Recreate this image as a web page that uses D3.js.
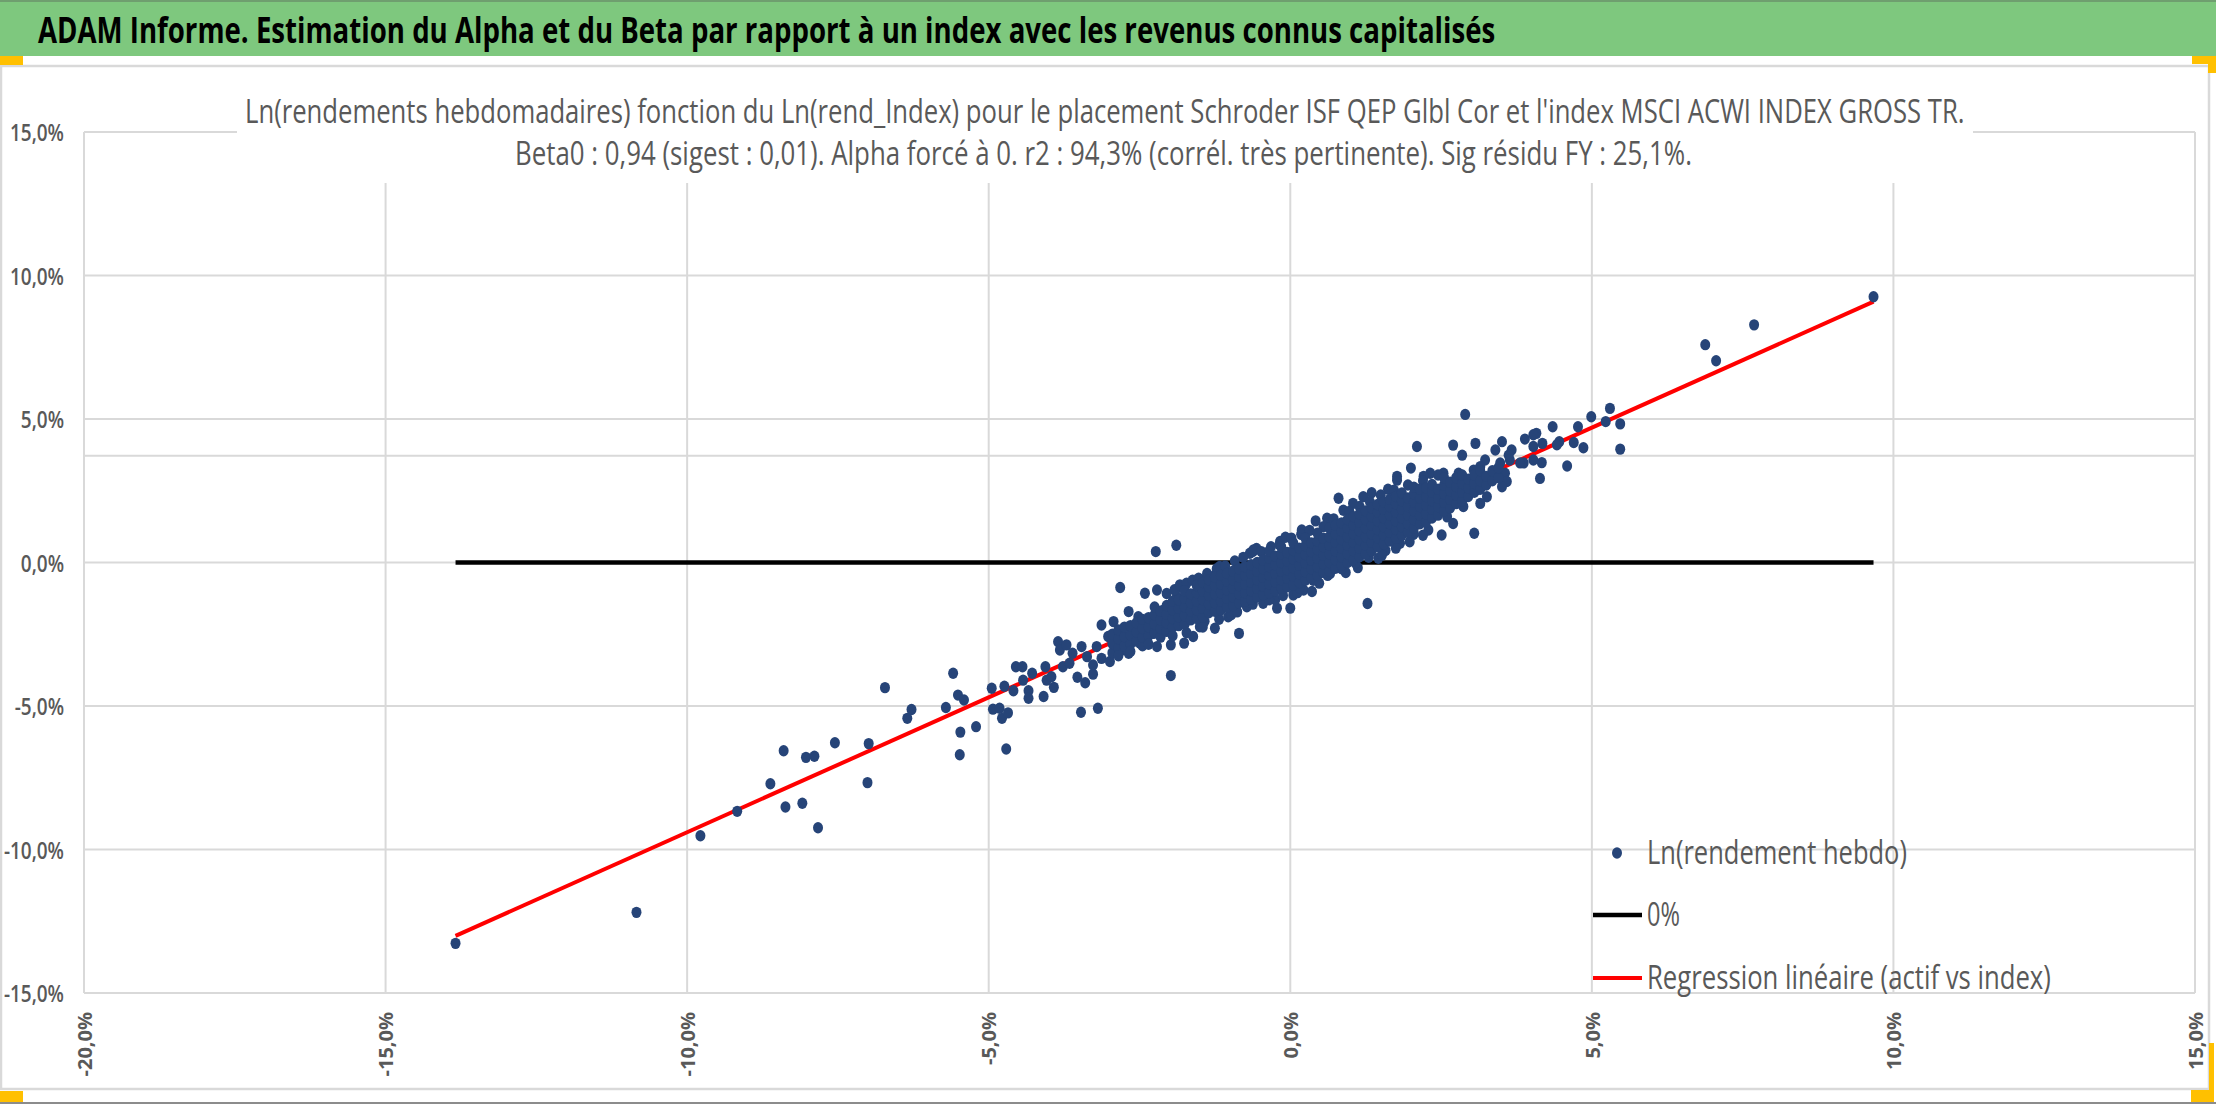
<!DOCTYPE html>
<html>
<head>
<meta charset="utf-8">
<script src="https://cdn.jsdelivr.net/npm/d3@7"></script>
<style>
	body { margin: 0; background: #fff; }
	svg { display: block; }
	text { font-family: "Open Sans", "Noto Sans", sans-serif; }
</style>
</head>
<body>
<script>
// texts
let titleText = 'ADAM Informe. Estimation du Alpha et du Beta par rapport à un index avec les revenus connus capitalisés'
let subtitleLines = [
	"Ln(rendements hebdomadaires) fonction du Ln(rend_Index) pour le placement Schroder ISF QEP Glbl Cor et l'index MSCI ACWI INDEX GROSS TR.",
	'Beta0 : 0,94 (sigest : 0,01). Alpha forcé à 0. r2 : 94,3% (corrél. très pertinente). Sig résidu FY : 25,1%.'
]
let legendLabels = ['Ln(rendement hebdo)', '0%', 'Regression linéaire (actif vs index)']

// axes (values in %)
let xTicks = [-20, -15, -10, -5, 0, 5, 10, 15]
let yTicks = [-15, -10, -5, 0, 5, 10, 15]
let extraGridY = [3.72]
let beta0 = 0.94

// weekly log returns, index (x) vs fund (y), in %
let outliers = [
	[-13.84, -13.27], [-10.84, -12.19], [-9.78, -9.52], [-9.17, -8.67], [-8.62, -7.71], [-8.37, -8.52],
	[-8.09, -8.39], [-7.83, -9.24], [-8.40, -6.56], [-8.03, -6.79], [-7.89, -6.75], [-7.55, -6.28],
	[-6.99, -6.31], [-7.01, -7.67], [-6.72, -4.36], [-6.28, -5.12], [-6.35, -5.43],
	[-5.71, -5.05], [-5.59, -3.86], [-5.51, -4.62], [-5.41, -4.79], [-5.47, -5.91], [-5.21, -5.72],
	[-5.48, -6.70], [-4.71, -6.50], [-4.95, -4.38], [-4.93, -5.11], [-4.82, -5.08], [-4.78, -5.43],
	[-4.68, -5.24], [-4.74, -4.31], [-4.59, -4.47], [-4.55, -3.63], [-4.44, -3.63], [-4.28, -3.86],
	[-4.43, -4.10], [-4.34, -4.47], [-4.34, -4.73], [-4.09, -4.67], [-4.04, -4.10], [-3.92, -4.35],
	[-3.96, -3.98], [-4.06, -3.63], [-3.85, -2.76], [-3.82, -3.05], [-3.71, -2.87], [-3.61, -3.16],
	[-3.77, -3.63], [-3.66, -3.51], [-3.53, -4.00], [-3.40, -4.19], [-3.27, -3.89], [-3.27, -3.57],
	[-3.46, -2.93], [-3.37, -3.28], [-3.47, -5.22], [-3.19, -5.08], [-3.21, -2.93], [-3.13, -2.18],
	[-3.13, -3.34], [-2.99, -3.45], [-2.93, -2.06], [-3.02, -2.58], [-2.82, -2.47], [-2.79, -3.05],
	[-2.68, -1.71], [-2.68, -3.16], [-2.60, -2.58], [-2.49, -2.81], [-2.52, -1.89], [-2.41, -1.07],
	[-2.38, -2.24], [-2.21, -0.96], [-2.27, -2.47], [-2.21, -2.93], [-2.10, -1.66], [-2.05, -2.24],
	[-1.98, -2.87], [-1.83, -0.84], [-1.88, -1.19], [-1.76, -2.81], [-1.61, -2.58], [-1.77, -2.00],
	[-1.61, -1.54], [-1.47, -0.61], [-1.50, -2.24], [-1.25, -2.29], [-1.28, -0.49], [-1.17, -0.14],
	[-1.03, -1.89], [-1.05, -0.61], [-0.94, -1.54], [-0.67, 0.32], [-0.56, 0.49], [-0.72, -1.54],
	[-0.56, -1.19], [-0.22, -1.59], [-0.25, -1.30], [0.00, -1.59], [0.05, -1.13], [0.22, -0.96],
	[0.36, -1.01], [-0.17, 0.73], [0.19, 1.13], [0.66, -0.38], [0.80, 2.24], [0.61, 1.54],
	[1.04, 2.06], [1.35, 2.43], [1.21, 2.29], [1.46, 0.15], [1.77, 2.87], [2.05, 1.01], [1.82, 0.67],
	[-2.23, 0.38], [-1.89, 0.60], [-2.82, -0.87], [-1.98, -3.94], [1.28, -1.43], [-0.85, -2.47],
	[-1.42, -2.05], [-0.98, -1.82], [-0.45, -1.42], [0.12, -1.05], [0.48, -0.72], [0.92, -0.35],
	[1.12, -0.18], [1.58, 0.42], [-0.62, 0.38], [-0.08, 0.88], [0.42, 1.45], [0.88, 1.82], [1.62, 2.55]
]
let upperPoints = [
	[9.67, 9.26], [7.69, 8.28], [6.88, 7.59], [7.06, 7.03], [5.47, 3.95], [5.47, 4.83], [5.30, 5.37],
	[5.23, 4.91], [4.99, 5.08], [4.77, 4.73], [4.86, 4.00], [4.70, 4.18], [4.59, 3.36], [4.35, 4.73],
	[4.46, 4.21], [4.42, 4.10], [4.14, 2.93], [4.17, 3.48], [4.03, 3.57], [4.18, 4.15], [4.08, 4.50],
	[4.03, 4.04], [3.89, 4.30], [4.03, 4.45], [3.87, 3.47], [3.81, 3.47], [3.67, 3.92], [3.62, 3.74],
	[3.64, 3.57], [3.51, 4.21], [3.40, 3.92], [3.48, 3.47], [3.56, 3.11], [3.59, 2.82], [3.51, 2.64],
	[3.42, 3.11], [3.23, 3.57], [3.15, 3.34], [3.04, 3.22], [2.90, 5.16], [3.07, 4.15], [2.70, 4.09],
	[2.85, 3.74], [2.10, 4.04], [2.00, 3.29], [1.77, 3.00], [3.05, 1.02], [2.51, 0.96], [2.04, 0.98],
	[2.29, 1.13], [2.70, 1.36], [3.26, 2.29], [3.15, 2.06], [3.09, 2.53], [2.87, 1.95], [2.93, 2.71],
	[2.60, 1.59], [2.32, 3.11], [2.21, 3.00], [2.54, 3.11], [2.79, 3.11]
]
// ragged rim of the dense cloud
let edgePoints = [
	[-2.05, -1.08], [-1.92, -0.95], [-1.83, -0.78], [-1.72, -0.72], [-1.62, -0.62], [-1.52, -0.55],
	[-1.38, -0.38], [-1.22, -0.22], [-1.08, -0.12], [-0.92, 0.05], [-0.78, 0.18], [-0.61, 0.44],
	[-0.48, 0.38], [-0.32, 0.55], [-0.18, 0.62], [0.02, 0.85], [0.18, 0.98], [0.32, 1.12],
	[0.55, 1.25], [0.72, 1.52], [0.98, 1.78], [1.15, 1.95], [1.32, 2.12], [1.50, 2.35],
	[1.72, 2.52], [1.95, 2.70], [2.20, 2.85], [2.45, 3.05],
	[-1.72, -2.45], [-1.45, -2.25], [-1.18, -1.98], [-0.88, -1.72], [-0.62, -1.45], [-0.35, -1.30],
	[-0.12, -1.15], [0.15, -0.88], [0.38, -0.62], [0.62, -0.45], [0.85, -0.22], [1.08, -0.02],
	[1.30, 0.18], [1.52, 0.25], [1.75, 0.50], [1.98, 0.72], [2.20, 0.95]
]
// dense core of the cloud: index value, fund values read at that index value
let coreColumns = [
	[-2.95, [-3.15, -2.82, -2.50]],
	[-2.85, [-2.98, -2.66, -2.35, -3.25]],
	[-2.75, [-2.90, -2.58, -2.25]],
	[-2.65, [-2.85, -2.52, -2.20, -3.10]],
	[-2.55, [-2.74, -2.42, -2.10]],
	[-2.45, [-2.90, -2.60, -2.30, -1.98]],
	[-2.35, [-2.55, -2.24, -1.92, -2.85]],
	[-2.25, [-2.45, -2.14, -1.82, -1.55]],
	[-2.15, [-2.60, -2.30, -2.00, -1.70]],
	[-2.05, [-2.40, -2.10, -1.80, -1.50]],
	[-1.95, [-2.25, -1.95, -1.65, -1.35, -2.55]],
	[-1.85, [-2.20, -1.90, -1.60, -1.30]],
	[-1.75, [-2.15, -1.85, -1.55, -1.25, -0.98]],
	[-1.65, [-2.00, -1.70, -1.40, -1.10]],
	[-1.55, [-1.95, -1.65, -1.35, -1.05, -0.80]],
	[-1.45, [-1.90, -1.60, -1.30, -1.00, -0.70]],
	[-1.35, [-1.75, -1.45, -1.15, -0.85, -0.60]],
	[-1.25, [-1.70, -1.40, -1.10, -0.80, -0.50]],
	[-1.15, [-1.65, -1.35, -1.05, -0.75, -0.45]],
	[-1.05, [-1.55, -1.25, -0.95, -0.65, -0.38]],
	[-0.95, [-1.50, -1.20, -0.90, -0.60, -0.30]],
	[-0.85, [-1.40, -1.10, -0.80, -0.50, -0.22]],
	[-0.75, [-1.35, -1.05, -0.75, -0.45, -0.15]],
	[-0.65, [-1.28, -0.98, -0.68, -0.38, -0.08]],
	[-0.55, [-1.20, -0.90, -0.60, -0.30, 0.00]],
	[-0.45, [-1.12, -0.82, -0.52, -0.22, 0.08]],
	[-0.35, [-1.05, -0.75, -0.45, -0.15, 0.15, 0.40]],
	[-0.25, [-0.98, -0.68, -0.38, -0.08, 0.22]],
	[-0.15, [-0.90, -0.60, -0.30, 0.00, 0.30, 0.55]],
	[-0.05, [-0.85, -0.55, -0.25, 0.05, 0.35]],
	[0.05, [-0.78, -0.48, -0.18, 0.12, 0.42, 0.68]],
	[0.15, [-0.70, -0.40, -0.10, 0.20, 0.50]],
	[0.25, [-0.62, -0.32, -0.02, 0.28, 0.58, 0.85]],
	[0.35, [-0.52, -0.22, 0.08, 0.38, 0.68]],
	[0.45, [-0.45, -0.15, 0.15, 0.45, 0.75, 1.02]],
	[0.55, [-0.35, -0.05, 0.25, 0.55, 0.85]],
	[0.65, [-0.30, 0.00, 0.30, 0.60, 0.90, 1.20]],
	[0.75, [-0.20, 0.10, 0.40, 0.70, 1.00, 1.30]],
	[0.85, [-0.10, 0.20, 0.50, 0.80, 1.10, 1.38]],
	[0.95, [0.00, 0.30, 0.60, 0.90, 1.20, 1.50]],
	[1.05, [0.10, 0.40, 0.70, 1.00, 1.30, 1.60]],
	[1.15, [0.20, 0.50, 0.80, 1.10, 1.40, 1.70]],
	[1.25, [0.30, 0.60, 0.90, 1.20, 1.50, 1.80]],
	[1.35, [0.40, 0.70, 1.00, 1.30, 1.60, 1.90]],
	[1.45, [0.55, 0.85, 1.15, 1.45, 1.75, 2.02]],
	[1.55, [0.65, 0.95, 1.25, 1.55, 1.85, 2.10]],
	[1.65, [0.75, 1.05, 1.35, 1.65, 1.95, 2.20]],
	[1.75, [0.85, 1.15, 1.45, 1.75, 2.05, 2.30]],
	[1.85, [0.95, 1.25, 1.55, 1.85, 2.15, 2.42]],
	[1.95, [1.05, 1.35, 1.65, 1.95, 2.25]],
	[2.05, [1.20, 1.50, 1.80, 2.10, 2.40, 2.62]],
	[2.15, [1.35, 1.65, 1.95, 2.25, 2.55]],
	[2.25, [1.40, 1.70, 2.00, 2.30, 2.60]],
	[2.35, [1.55, 1.85, 2.15, 2.45, 2.72]],
	[2.45, [1.65, 1.95, 2.25, 2.55]],
	[2.55, [1.80, 2.10, 2.40, 2.70, 2.95]],
	[2.65, [1.90, 2.20, 2.50, 2.80]],
	[2.75, [2.05, 2.35, 2.65, 2.95]],
	[2.85, [2.15, 2.45, 2.75, 3.05]],
	[2.95, [2.30, 2.60, 2.90]],
	[3.05, [2.45, 2.75, 3.05]],
	[3.15, [2.55, 2.85, 3.20]],
	[3.25, [2.70, 3.00]],
	[3.35, [2.85, 3.20]],
	[3.45, [2.95, 3.30]]
]

let corePoints = coreColumns.flatMap(([x, ys]) => ys.map(y => [x, y]))
let points = outliers.concat(upperPoints, edgePoints, corePoints)

let W = 2216, H = 1104
let gridColor = '#d9d9d9'
let labelColor = '#595959'
let dotColor = '#264478'

let pct = d3.formatLocale({decimal: ',', thousands: ' ', grouping: [3], currency: ['', ''], minus: '-'}).format('.1f')
let fmt = d => pct(d) + '%'

let x = d3.scaleLinear().domain([-20, 15]).range([84, 2195])
let y = d3.scaleLinear().domain([-15, 15]).range([993, 132])

let svg = d3.select('body').append('svg')
	.attr('width', W).attr('height', H)

// the source picture is narrower than it is tall: squeeze text horizontally
function fitText(parent, str, x0, y0, width, attrs) {
	let t = parent.append('text').text(str)
	for (let k in attrs) t.attr(k, attrs[k])
	let w = t.node().getComputedTextLength()
	t.attr('transform', `translate(${x0},${y0}) scale(${width/w},1)`)
	return t
}
function squeeze(sel, k, dx) {
	sel.attr('x', 0).attr('transform', `translate(${dx},0) scale(${k},1)`)
}

// frame
svg.append('rect').attr('x', 0).attr('y', 0).attr('width', W).attr('height', H).attr('fill', '#fff')
svg.append('rect')
	.attr('x', 1).attr('y', 66).attr('width', 2208).attr('height', 1023)
	.attr('fill', 'none').attr('stroke', gridColor).attr('stroke-width', 2.5)
svg.append('line')
	.attr('x1', 0).attr('x2', W).attr('y1', 1103).attr('y2', 1103)
	.attr('stroke', '#8c8c8c').attr('stroke-width', 2)

// header band
svg.append('rect')
	.attr('x', 0).attr('y', 0).attr('width', W).attr('height', 56)
	.attr('fill', '#7ec87e')
svg.append('line')
	.attr('x1', 0).attr('x2', W).attr('y1', 1).attr('y2', 1)
	.attr('stroke', '#6f9f6f').attr('stroke-width', 2)
fitText(svg, titleText, 38, 43, 1458, {'font-size': 35, 'font-weight': 700, 'fill': '#000'})

// selection handles
let handles = [[0, 56, 23, 9], [0, 1091, 23, 11], [2192, 56, 24, 8], [2208, 56, 8, 17], [2191, 1090, 23, 12], [2209, 1043, 5, 59]]
svg.append('g').selectAll('rect').data(handles).join('rect')
	.attr('x', d => d[0]).attr('y', d => d[1]).attr('width', d => d[2]).attr('height', d => d[3])
	.attr('fill', '#ffc000')

// grid
let grid = svg.append('g')
grid.selectAll('line.gx').data(xTicks).join('line')
	.attr('class', 'gx')
	.attr('x1', d => x(d)).attr('x2', d => x(d))
	.attr('y1', y(15)).attr('y2', y(-15))
	.attr('stroke', gridColor).attr('stroke-width', 2)
grid.selectAll('line.gy').data(yTicks.concat(extraGridY)).join('line')
	.attr('class', 'gy')
	.attr('x1', x(-20)).attr('x2', x(15))
	.attr('y1', d => y(d)).attr('y2', d => y(d))
	.attr('stroke', gridColor).attr('stroke-width', 2)

// chart title box (hides the grid behind it)
svg.append('rect')
	.attr('x', 237).attr('y', 70).attr('width', 1736).attr('height', 113)
	.attr('fill', '#fff')
let subStyle = {'font-size': 32, 'font-weight': 500, 'fill': labelColor}
fitText(svg, subtitleLines[0], 245, 123, 1720, subStyle)
fitText(svg, subtitleLines[1], 515, 165, 1177, subStyle)

// axes
let yAxis = svg.append('g')
	.attr('transform', `translate(${x(-20)},0)`)
	.call(d3.axisLeft(y).tickValues(yTicks).tickFormat(fmt).tickSize(0))
yAxis.select('.domain').remove()
yAxis.selectAll('text')
	.attr('font-family', '"Open Sans", "Noto Sans", sans-serif')
	.attr('font-size', 24).attr('font-weight', 600).attr('fill', labelColor)
	.attr('dy', '0.36em')
	.call(squeeze, 0.79, -20)

let xAxis = svg.append('g')
	.attr('transform', `translate(0,${y(-15)})`)
	.call(d3.axisBottom(x).tickValues(xTicks).tickFormat(fmt).tickSize(0))
xAxis.select('.domain').remove()
xAxis.selectAll('text')
	.attr('font-family', '"DejaVu Sans", sans-serif')
	.attr('font-size', 20).attr('font-weight', 700).attr('fill', labelColor)
	.attr('text-anchor', 'end')
	.attr('x', 0).attr('y', 0).attr('dy', '0.36em')
	.attr('transform', 'translate(0,19) rotate(-90)')

// reference lines
let xExt = d3.extent(points, d => d[0])
let plot = svg.append('g')
plot.append('line')
	.attr('x1', x(xExt[0])).attr('x2', x(xExt[1]))
	.attr('y1', y(0)).attr('y2', y(0))
	.attr('stroke', '#000').attr('stroke-width', 4.5)
plot.append('line')
	.attr('x1', x(xExt[0])).attr('x2', x(xExt[1]))
	.attr('y1', y(beta0*xExt[0])).attr('y2', y(beta0*xExt[1]))
	.attr('stroke', '#ff0000').attr('stroke-width', 4)

// points
plot.append('g').selectAll('ellipse').data(points).join('ellipse')
	.attr('cx', d => x(d[0])).attr('cy', d => y(d[1]))
	.attr('rx', 5).attr('ry', 5.7)
	.attr('fill', dotColor)

// legend
let legend = svg.append('g')
legend.append('ellipse')
	.attr('cx', 1617).attr('cy', 853).attr('rx', 5).attr('ry', 5.7).attr('fill', dotColor)
legend.append('line')
	.attr('x1', 1593).attr('x2', 1642).attr('y1', 915).attr('y2', 915)
	.attr('stroke', '#000').attr('stroke-width', 4.5)
legend.append('line')
	.attr('x1', 1593).attr('x2', 1642).attr('y1', 978).attr('y2', 978)
	.attr('stroke', '#ff0000').attr('stroke-width', 4)
let legendWidths = [260, 33, 404]
let legendBaselines = [864, 926, 989]
legendLabels.forEach((label, i) => {
	fitText(legend, label, 1647, legendBaselines[i], legendWidths[i], {'font-size': 32, 'fill': labelColor})
})
</script>
</body>
</html>
